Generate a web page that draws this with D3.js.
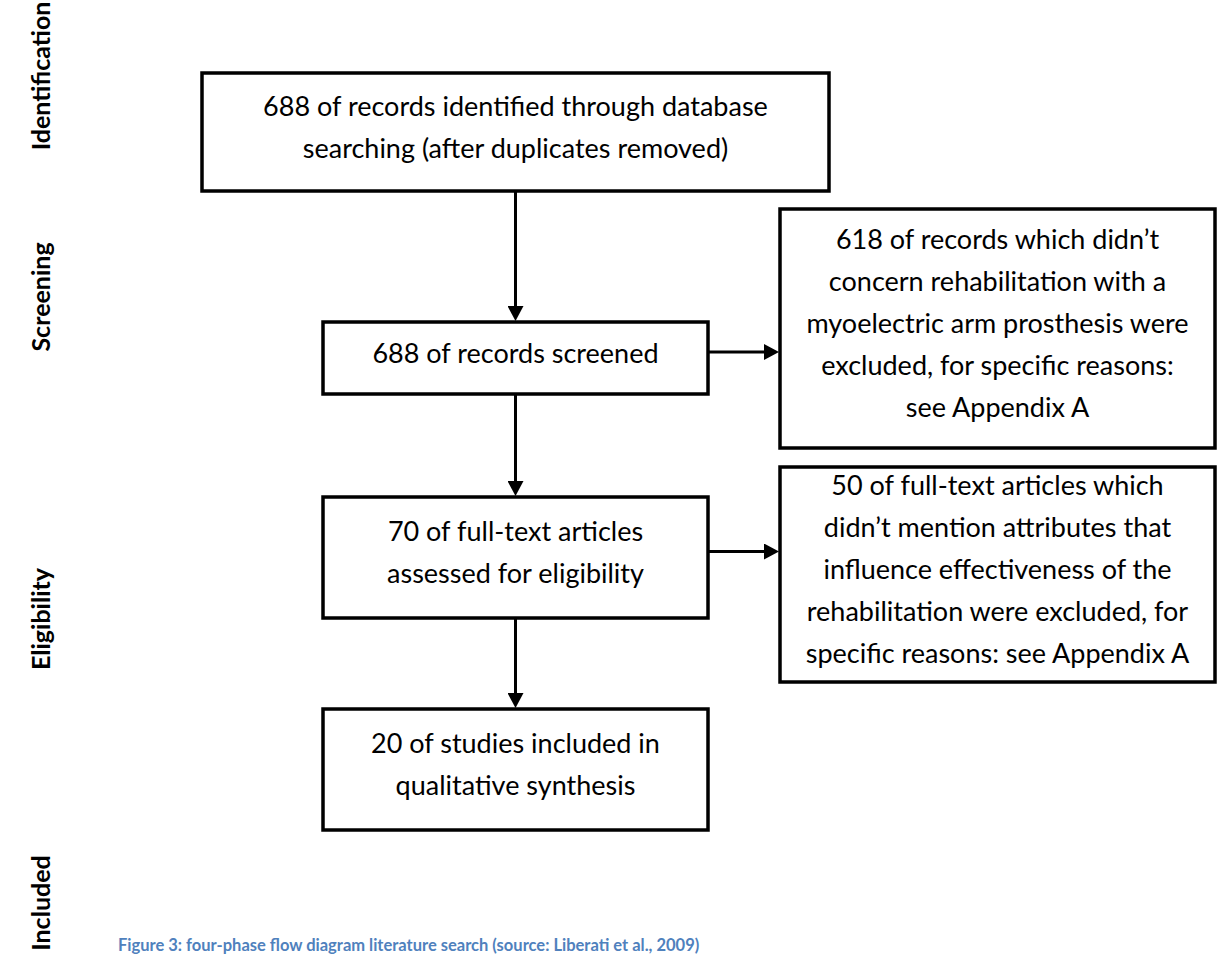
<!DOCTYPE html>
<html>
<head>
<meta charset="utf-8">
<script src="https://cdn.jsdelivr.net/npm/d3@7"></script>
<style>
    body { margin: 0; background: #fff; }
    svg { display: block; }
</style>
</head>
<body>
<svg></svg>
<script>
// phase labels down the left side
const phases = ['Identification', 'Screening', 'Eligibility', 'Included']

// text of each box, one entry per line
const boxTexts = [
    ['688 of records identified through database', 'searching (after duplicates removed)'],
    ['688 of records screened'],
    [
        '618 of records which didn\u2019t',
        'concern rehabilitation with a',
        'myoelectric arm prosthesis were',
        'excluded, for specific reasons:',
        'see Appendix A'
    ],
    ['70 of full-text articles', 'assessed for eligibility'],
    [
        '50 of full-text articles which',
        'didn\u2019t mention attributes that',
        'influence effectiveness of the',
        'rehabilitation were excluded, for',
        'specific reasons: see Appendix A'
    ],
    ['20 of studies included in', 'qualitative synthesis']
]

// arrows: [from, to, direction]
const links = [
    [0, 1, 'down'],
    [1, 2, 'right'],
    [1, 3, 'down'],
    [3, 4, 'right'],
    [3, 5, 'down']
]

const caption =
    'Figure 3: four-phase flow diagram literature search (source: Liberati et al., 2009)'

const width = 1219,
    height = 956

// layout of the boxes on the page
const layout = [
    { x: 202, y: 73, w: 627, h: 118 },
    { x: 323, y: 322, w: 385, h: 72 },
    { x: 780, y: 209, w: 435, h: 239 },
    { x: 323, y: 497, w: 385, h: 121 },
    { x: 780, y: 467, w: 435, h: 215 },
    { x: 323, y: 709, w: 385, h: 121 }
]
const phaseY = d3.scaleOrdinal().domain(phases).range([76, 297, 619, 903])

const lineH = 42
const fontBody = 'Lato, "Open Sans", sans-serif'

const svg = d3
    .select('svg')
    .attr('width', width)
    .attr('height', height)
    .attr('viewBox', [0, 0, width, height])

svg.append('defs')
    .append('marker')
    .attr('id', 'head')
    .attr('markerUnits', 'userSpaceOnUse')
    .attr('viewBox', '0 0 15 16')
    .attr('markerWidth', 15)
    .attr('markerHeight', 16)
    .attr('refX', 2)
    .attr('refY', 8)
    .attr('orient', 'auto')
    .append('path')
    .attr('d', 'M0,0L15,8L0,16Z')
    .attr('fill', '#000')

// phase labels
svg.append('g')
    .selectAll('text')
    .data(phases)
    .join('text')
    .attr('transform', (d) => `translate(40,${phaseY(d)}) rotate(-90)`)
    .attr('text-anchor', 'middle')
    .attr('dominant-baseline', 'central')
    .attr('font-family', fontBody)
    .attr('font-weight', 'bold')
    .attr('font-size', 25)
    .attr('fill', '#000')
    .text((d) => d)

// arrows
svg.append('g')
    .selectAll('line')
    .data(links)
    .join('line')
    .each(function ([a, b, dir]) {
        const s = layout[a],
            t = layout[b]
        const el = d3.select(this)
        if (dir === 'down') {
            const x = s.x + s.w / 2
            el.attr('x1', x).attr('y1', s.y + s.h).attr('x2', x).attr('y2', t.y - 14)
        } else {
            const y = s.y + s.h / 2 - 6
            el.attr('x1', s.x + s.w).attr('y1', y).attr('x2', t.x - 14).attr('y2', y)
        }
    })
    .attr('stroke', '#000')
    .attr('stroke-width', 3)
    .attr('marker-end', 'url(#head)')

// boxes
const box = svg
    .append('g')
    .selectAll('g')
    .data(boxTexts)
    .join('g')

box.append('rect')
    .attr('x', (d, i) => layout[i].x)
    .attr('y', (d, i) => layout[i].y)
    .attr('width', (d, i) => layout[i].w)
    .attr('height', (d, i) => layout[i].h)
    .attr('fill', '#fff')
    .attr('stroke', '#000')
    .attr('stroke-width', 3.5)

box.each(function (lines, i) {
    const b = layout[i]
    const cy = b.y + b.h / 2 - 6
    d3.select(this)
        .selectAll('text')
        .data(lines)
        .join('text')
        .attr('x', b.x + b.w / 2)
        .attr('y', (d, j) => cy + (j - (lines.length - 1) / 2) * lineH)
        .attr('text-anchor', 'middle')
        .attr('dominant-baseline', 'central')
        .attr('font-family', fontBody)
        .attr('font-size', 27)
        .attr('fill', '#000')
        .text((d) => d)
})

// caption at the foot of the page
svg.append('text')
    .attr('x', 118)
    .attr('y', 951)
    .attr('font-family', fontBody)
    .attr('font-weight', 'bold')
    .attr('font-size', 16.5)
    .attr('fill', '#4f81bd')
    .text(caption)
</script>
</body>
</html>
